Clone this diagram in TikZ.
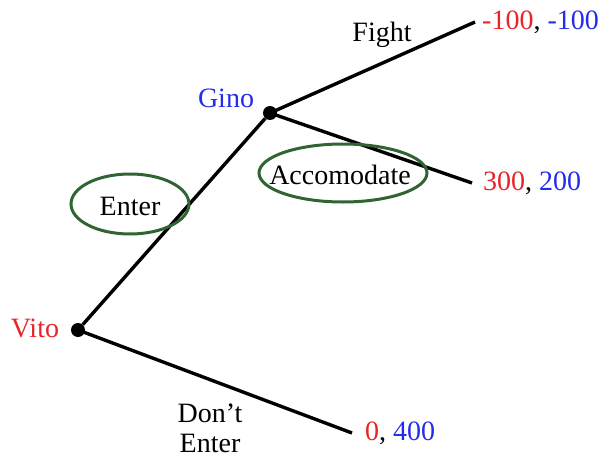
\documentclass[tikz,border=0pt]{standalone}
\usepackage{fontspec}
\setmainfont{Liberation Serif}
\definecolor{vitored}{RGB}{232,36,40}
\definecolor{ginoblue}{RGB}{36,44,236}
\definecolor{ovalgreen}{RGB}{48,100,50}
\tikzset{
  dot/.style={circle, fill=black, inner sep=0pt, minimum size=14pt},
  branch/.style={line width=3.4pt},
  oval/.style={ellipse, draw=ovalgreen, line width=3pt, inner sep=0pt},
  lbl/.style={font=\fontsize{28}{33}\selectfont, inner sep=0pt}
}
\usetikzlibrary{shapes.geometric}
\begin{document}
\begin{tikzpicture}[x=1pt, y=-1pt]
\useasboundingbox (0,0) rectangle (598,458);
\node[dot] (vito) at (78, 330) {};
\node[dot] (gino) at (270, 113) {};
\coordinate (fight) at (475, 22);
\coordinate (acc) at (472, 183);
\coordinate (dont) at (352, 433);
\draw[branch] (vito) -- (gino);
\draw[branch] (gino.center) -- (fight);
\draw[branch] (gino.center) -- (acc);
\draw[branch] (vito.center) -- (dont);
\node[oval, minimum width=118pt, minimum height=60pt] (enteroval) at (130, 204) {};
\node[oval, minimum width=168pt, minimum height=58pt] (accoval) at (343, 173) {};
\node[lbl] (enter) at (130, 206) {Enter};
\node[lbl] (accomodate) at (340, 175) {Accomodate};
\node[lbl] (fightlbl) at (382, 35) {Fight};
\node[lbl, align=center] (dontlbl) at (210, 428) {Don’t\\[-3pt]Enter};
\node[lbl, text=vitored] (vitolbl) at (35, 328) {Vito};
\node[lbl, text=ginoblue] (ginolbl) at (226, 98) {Gino};
\node[lbl, anchor=west] (payfight) at (482, 22) {\textcolor{vitored}{-100}, \textcolor{ginoblue}{-100}};
\node[lbl, anchor=west] (payacc) at (483, 183) {\textcolor{vitored}{300}, \textcolor{ginoblue}{200}};
\node[lbl, anchor=west] (paydont) at (365, 433) {\textcolor{vitored}{0}, \textcolor{ginoblue}{400}};
\end{tikzpicture}
\end{document}
